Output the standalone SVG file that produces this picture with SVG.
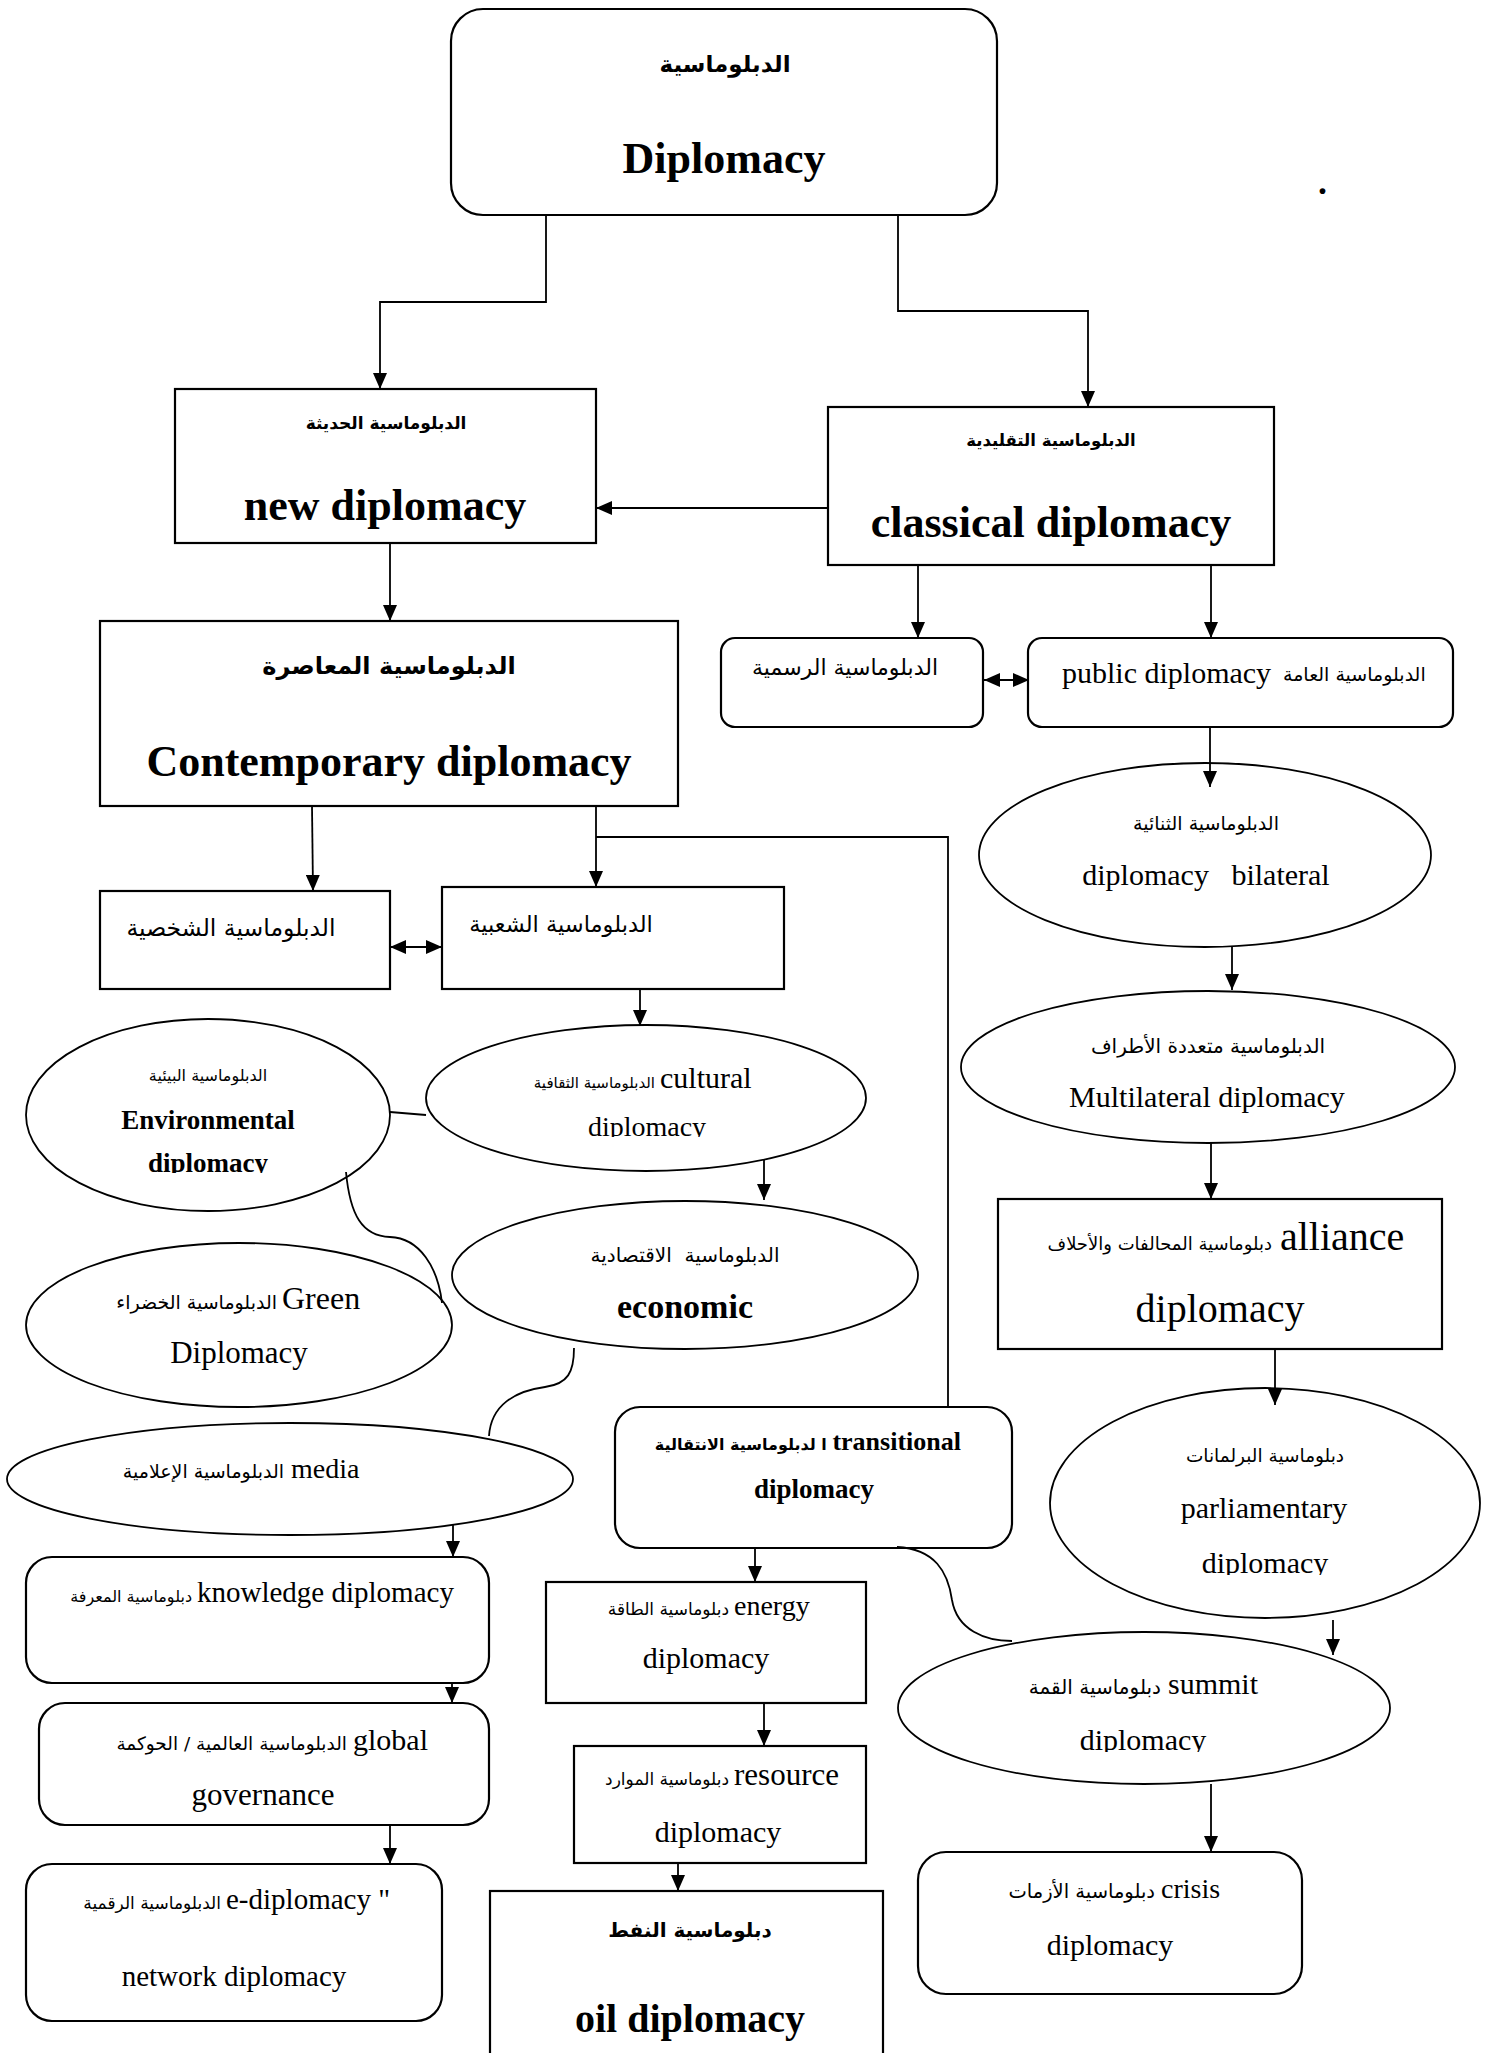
<svg xmlns="http://www.w3.org/2000/svg" width="1490" height="2053" viewBox="0 0 1490 2053">
<style>
.box{fill:#fff;stroke:#000;stroke-width:2.2}
.ell{fill:#fff;stroke:#000;stroke-width:1.8}
.ln{fill:none;stroke:#000;stroke-width:1.8}
.arr{marker-end:url(#ah)}
.dbl{marker-start:url(#ah2);marker-end:url(#ah)}
.lat{font-family:"Liberation Serif","DejaVu Serif",serif;fill:#000}
.ar{font-family:"DejaVu Sans","Noto Sans",sans-serif;fill:#000}
.b{font-weight:bold}
</style>
<defs>
<marker id="ah" markerUnits="userSpaceOnUse" markerWidth="16" markerHeight="14" refX="16" refY="7" orient="auto"><path d="M0,0 L16,7 L0,14 z" fill="#000"/></marker>
<marker id="ah2" markerUnits="userSpaceOnUse" markerWidth="16" markerHeight="14" refX="16" refY="7" orient="auto-start-reverse"><path d="M0,0 L16,7 L0,14 z" fill="#000"/></marker>
<clipPath id="cEnv"><rect x="0" y="0" width="1490" height="1173"/></clipPath>
<clipPath id="cCul"><rect x="0" y="0" width="1490" height="1137"/></clipPath>
<clipPath id="cPar"><rect x="0" y="0" width="1490" height="1575"/></clipPath>
<clipPath id="cSum"><rect x="0" y="0" width="1490" height="1752"/></clipPath>
</defs>

<g id="node-diplomacy">
<rect class="box" x="451" y="9" width="546" height="206" rx="32"/>
<text class="ar b" x="725" y="72" font-size="23" text-anchor="middle">الدبلوماسية</text>
<text class="lat b" x="724" y="173" font-size="44" text-anchor="middle">Diplomacy</text>
</g>
<g id="node-dot"><text class="lat b" x="1318" y="194" font-size="36">.</text></g>

<g id="node-new">
<rect class="box" x="175" y="389" width="421" height="154"/>
<text class="ar b" x="386" y="429" font-size="17" text-anchor="middle">الدبلوماسية الحديثة</text>
<text class="lat b" x="385" y="520" font-size="44" text-anchor="middle">new diplomacy</text>
</g>

<g id="node-classical">
<rect class="box" x="828" y="407" width="446" height="158"/>
<text class="ar b" x="1051" y="446" font-size="16.5" text-anchor="middle">الدبلوماسية التقليدية</text>
<text class="lat b" x="1051" y="537" font-size="44" text-anchor="middle">classical diplomacy</text>
</g>

<g id="node-contemporary">
<rect class="box" x="100" y="621" width="578" height="185"/>
<text class="ar b" x="389" y="674" font-size="24" text-anchor="middle">الدبلوماسية المعاصرة</text>
<text class="lat b" x="389" y="776" font-size="44" text-anchor="middle">Contemporary diplomacy</text>
</g>

<g id="node-official">
<rect class="box" x="721" y="638" width="262" height="89" rx="14"/>
<text class="ar" x="845" y="675" font-size="22" text-anchor="middle">الدبلوماسية الرسمية</text>
</g>

<g id="node-public">
<rect class="box" x="1028" y="638" width="425" height="89" rx="14"/>
<text class="lat" x="1062" y="683" font-size="30">public diplomacy</text>
<text class="ar" x="1283" y="681" font-size="19">الدبلوماسية العامة</text>
</g>

<g id="node-bilateral">
<ellipse class="ell" cx="1205" cy="855" rx="226" ry="92"/>
<text class="ar" x="1206" y="830" font-size="19" text-anchor="middle">الدبلوماسية الثنائية</text>
<text class="lat" x="1206" y="885" font-size="30" text-anchor="middle" xml:space="preserve">diplomacy   bilateral</text>
</g>

<g id="node-multilateral">
<ellipse class="ell" cx="1208" cy="1067" rx="247" ry="76"/>
<text class="ar" x="1208" y="1053" font-size="20" text-anchor="middle">الدبلوماسية متعددة الأطراف</text>
<text class="lat" x="1207" y="1107" font-size="30" text-anchor="middle">Multilateral diplomacy</text>
</g>

<g id="node-alliance">
<rect class="box" x="998" y="1199" width="444" height="150"/>
<text class="ar" x="1272" y="1250" font-size="18" text-anchor="end">دبلوماسية المحالفات والأحلاف</text>
<text class="lat" x="1280" y="1250" font-size="40">alliance</text>
<text class="lat" x="1220" y="1322" font-size="40" text-anchor="middle">diplomacy</text>
</g>

<g id="node-parliamentary">
<ellipse class="ell" cx="1265" cy="1503" rx="215" ry="115"/>
<text class="ar" x="1265" y="1462" font-size="18.5" text-anchor="middle">دبلوماسية البرلمانات</text>
<text class="lat" x="1264" y="1518" font-size="30" text-anchor="middle">parliamentary</text>
<text class="lat" x="1265" y="1573" font-size="30" text-anchor="middle" clip-path="url(#cPar)">diplomacy</text>
</g>

<g id="node-summit">
<ellipse class="ell" cx="1144" cy="1708" rx="246" ry="76"/>
<text class="ar" x="1161" y="1694" font-size="20" text-anchor="end">دبلوماسية القمة</text>
<text class="lat" x="1168" y="1694" font-size="30">summit</text>
<text class="lat" x="1143" y="1750" font-size="30" text-anchor="middle" clip-path="url(#cSum)">diplomacy</text>
</g>

<g id="node-crisis">
<rect class="box" x="918" y="1852" width="384" height="142" rx="28"/>
<text class="ar" x="1155" y="1898" font-size="19.5" text-anchor="end">دبلوماسية الأزمات</text>
<text class="lat" x="1161" y="1898" font-size="28">crisis</text>
<text class="lat" x="1110" y="1955" font-size="30" text-anchor="middle">diplomacy</text>
</g>

<g id="node-personal">
<rect class="box" x="100" y="891" width="290" height="98"/>
<text class="ar" x="231" y="936" font-size="23.5" text-anchor="middle">الدبلوماسية الشخصية</text>
</g>

<g id="node-popular">
<rect class="box" x="442" y="887" width="342" height="102"/>
<text class="ar" x="561" y="932" font-size="22.5" text-anchor="middle">الدبلوماسية الشعبية</text>
</g>

<g id="node-environmental">
<ellipse class="ell" cx="208" cy="1115" rx="182" ry="96"/>
<text class="ar" x="208" y="1081" font-size="16" text-anchor="middle">الدبلوماسية البيئية</text>
<text class="lat b" x="208" y="1129" font-size="27" text-anchor="middle">Environmental</text>
<text class="lat b" x="208" y="1172" font-size="27" text-anchor="middle" clip-path="url(#cEnv)">diplomacy</text>
</g>

<g id="node-cultural">
<ellipse class="ell" cx="646" cy="1098" rx="220" ry="73"/>
<text class="ar" x="655" y="1088" font-size="15" text-anchor="end">الدبلوماسية الثقافية</text>
<text class="lat" x="660" y="1088" font-size="30">cultural</text>
<text class="lat" x="647" y="1136" font-size="28" text-anchor="middle" clip-path="url(#cCul)">diplomacy</text>
</g>

<g id="node-economic">
<ellipse class="ell" cx="685" cy="1275" rx="233" ry="74"/>
<text class="ar" x="685" y="1262" font-size="20" text-anchor="middle" xml:space="preserve">الدبلوماسية  الاقتصادية</text>
<text class="lat b" x="685" y="1318" font-size="34" text-anchor="middle">economic</text>
</g>

<g id="node-green">
<ellipse class="ell" cx="239" cy="1325" rx="213" ry="82"/>
<text class="ar" x="277" y="1309" font-size="19" text-anchor="end">الدبلوماسية الخضراء</text>
<text class="lat" x="282" y="1309" font-size="32">Green</text>
<text class="lat" x="239" y="1363" font-size="31" text-anchor="middle">Diplomacy</text>
</g>

<g id="node-media">
<ellipse class="ell" cx="290" cy="1479" rx="283" ry="56"/>
<text class="ar" x="284" y="1478" font-size="19" text-anchor="end">الدبلوماسية الإعلامية</text>
<text class="lat" x="291" y="1478" font-size="28">media</text>
</g>

<g id="node-knowledge">
<rect class="box" x="26" y="1557" width="463" height="126" rx="26"/>
<text class="ar" x="192" y="1602" font-size="16" text-anchor="end">دبلوماسية المعرفة</text>
<text class="lat" x="197" y="1602" font-size="29">knowledge diplomacy</text>
</g>

<g id="node-global">
<rect class="box" x="39" y="1703" width="450" height="122" rx="26"/>
<text class="ar" x="347" y="1750" font-size="18.5" text-anchor="end">الدبلوماسية العالمية / الحوكمة</text>
<text class="lat" x="353" y="1750" font-size="30">global</text>
<text class="lat" x="263" y="1805" font-size="31" text-anchor="middle">governance</text>
</g>

<g id="node-digital">
<rect class="box" x="26" y="1864" width="416" height="157" rx="26"/>
<text class="ar" x="221" y="1909" font-size="17" text-anchor="end">الدبلوماسية الرقمية</text>
<text class="lat" x="226" y="1909" font-size="29" xml:space="preserve">e-diplomacy "</text>
<text class="lat" x="234" y="1986" font-size="29" text-anchor="middle">network diplomacy</text>
</g>

<g id="node-transitional">
<rect class="box" x="615" y="1407" width="397" height="141" rx="25"/>
<text class="ar b" x="961" y="1450" font-size="16" text-anchor="end">ا لدبلوماسية الانتقالية <tspan class="lat" font-size="26">transitional</tspan></text>
<text class="lat b" x="814" y="1498" font-size="27" text-anchor="middle">diplomacy</text>
</g>

<g id="node-energy">
<rect class="box" x="546" y="1582" width="320" height="121"/>
<text class="ar" x="729" y="1615" font-size="17" text-anchor="end">دبلوماسية الطاقة</text>
<text class="lat" x="734" y="1615" font-size="28">energy</text>
<text class="lat" x="706" y="1668" font-size="30" text-anchor="middle">diplomacy</text>
</g>

<g id="node-resource">
<rect class="box" x="574" y="1746" width="292" height="117"/>
<text class="ar" x="729" y="1785" font-size="17" text-anchor="end">دبلوماسية الموارد</text>
<text class="lat" x="734" y="1785" font-size="31">resource</text>
<text class="lat" x="718" y="1842" font-size="30" text-anchor="middle">diplomacy</text>
</g>

<g id="node-oil">
<rect class="box" x="490" y="1891" width="393" height="180"/>
<text class="ar b" x="690" y="1937" font-size="20" text-anchor="middle">دبلوماسية النفط</text>
<text class="lat b" x="690" y="2032" font-size="40" text-anchor="middle">oil diplomacy</text>
</g>

<g id="connectors">
<path class="ln arr" d="M546,215 V302 H380 V389"/>
<path class="ln arr" d="M898,215 V311 H1088 V407"/>
<path class="ln arr" d="M828,508 H596"/>
<path class="ln arr" d="M390,543 V621"/>
<path class="ln arr" d="M918,565 V638"/>
<path class="ln arr" d="M1211,565 V638"/>
<path class="ln dbl" d="M984,680 H1029"/>
<path class="ln arr" d="M1210,727 V787"/>
<path class="ln arr" d="M1232,947 V990"/>
<path class="ln arr" d="M1211,1143 V1199"/>
<path class="ln arr" d="M1275,1349 V1405"/>
<path class="ln arr" d="M1333,1620 V1655"/>
<path class="ln arr" d="M1211,1784 V1852"/>
<path class="ln arr" d="M312,806 L313,891"/>
<path class="ln arr" d="M596,806 V887"/>
<path class="ln" d="M596,837 H948 V1407"/>
<path class="ln dbl" d="M390,947 H442"/>
<path class="ln arr" d="M640,989 V1026"/>
<path class="ln" d="M390,1112 L426,1115"/>
<path class="ln" d="M346,1172 C350,1215 362,1236 390,1237 C420,1238 438,1268 442,1303"/>
<path class="ln arr" d="M764,1160 V1200"/>
<path class="ln" d="M574,1348 C574,1372 568,1384 545,1387 C515,1391 491,1405 489,1436"/>
<path class="ln arr" d="M453,1524 V1557"/>
<path class="ln arr" d="M452,1683 V1703"/>
<path class="ln arr" d="M390,1825 V1864"/>
<path class="ln arr" d="M755,1548 V1582"/>
<path class="ln" d="M897,1547 C935,1549 948,1572 952,1600 C957,1630 985,1641 1012,1641"/>
<path class="ln arr" d="M764,1703 V1746"/>
<path class="ln arr" d="M678,1863 V1891"/>
</g>
</svg>
